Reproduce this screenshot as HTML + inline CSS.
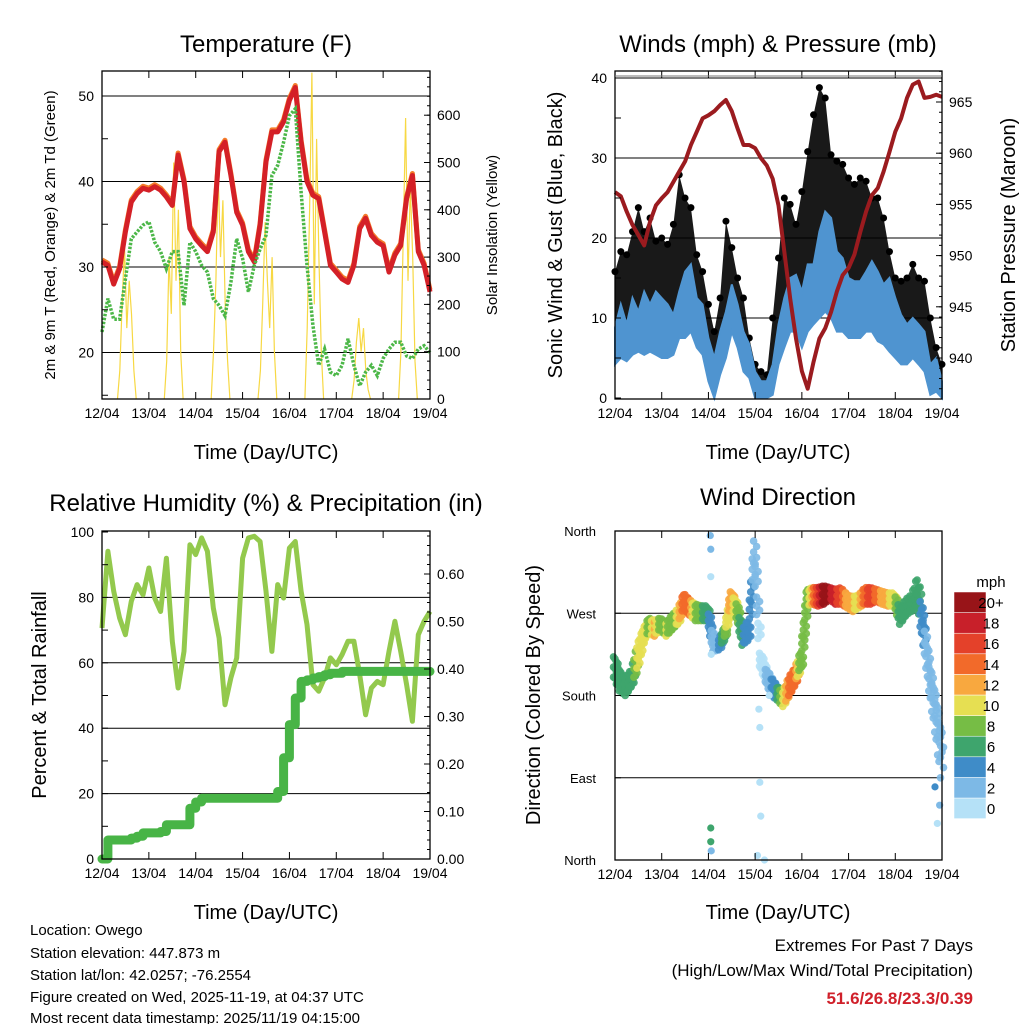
<!DOCTYPE html>
<html><head><meta charset="utf-8"><style>
html,body{margin:0;padding:0;background:#fff;}
svg{display:block;font-family:"Liberation Sans",Arial,sans-serif;}
</style></head><body>
<svg id="c" width="1024" height="1024" viewBox="0 0 1024 1024" xmlns="http://www.w3.org/2000/svg">
<rect x="0" y="0" width="1024" height="1024" fill="#fff"/>
<g font-size="24" text-anchor="middle" fill="#000">
<text x="266" y="52">Temperature (F)</text>
<text x="778" y="52">Winds (mph) &amp; Pressure (mb)</text>
<text x="266" y="511">Relative Humidity (%) &amp; Precipitation (in)</text>
<text x="778" y="505">Wind Direction</text>
</g>
<g font-size="20" text-anchor="middle">
<text x="266" y="459">Time (Day/UTC)</text>
<text x="778" y="459">Time (Day/UTC)</text>
<text x="266" y="919">Time (Day/UTC)</text>
<text x="778" y="919">Time (Day/UTC)</text>
<text transform="translate(562,235) rotate(-90)">Sonic Wind &amp; Gust (Blue, Black)</text>
<text transform="translate(1015,235) rotate(-90)">Station Pressure (Maroon)</text>
<text transform="translate(46,695) rotate(-90)">Percent &amp; Total Rainfall</text>
<text transform="translate(540,695) rotate(-90)">Direction (Colored By Speed)</text>
</g>
<g font-size="15" text-anchor="middle">
<text transform="translate(55,235) rotate(-90)">2m &amp; 9m T (Red, Orange) &amp; 2m Td (Green)</text>
<text transform="translate(497,235) rotate(-90)">Solar Insolation (Yellow)</text>
</g>
<g font-size="15">
<text x="30" y="935">Location: Owego</text>
<text x="30" y="958">Station elevation: 447.873 m</text>
<text x="30" y="980">Station lat/lon: 42.0257; -76.2554</text>
<text x="30" y="1002">Figure created on Wed, 2025-11-19, at 04:37 UTC</text>
<text x="30" y="1024" dy="-1">Most recent data timestamp: 2025/11/19 04:15:00</text>
</g>
<g font-size="17" text-anchor="end">
<text x="973" y="951">Extremes For Past 7 Days</text>
<text x="973" y="976">(High/Low/Max Wind/Total Precipitation)</text>
<text x="973" y="1004" fill="#d0202a" font-weight="bold">51.6/26.8/23.3/0.39</text>
</g>
<text x="991" y="587" font-size="15" text-anchor="middle">mph</text>
<g id="layer"></g>
</svg>
<script>
const days=['12/04','13/04','14/04','15/04','16/04','17/04','18/04','19/04'];
const tempRed=[30.6,30.2,28.0,29.8,34.1,37.6,38.6,39.2,39.0,39.4,39.0,38.2,37.2,43.1,40.0,34.5,33.3,32.5,31.8,34.1,43.5,44.6,40.7,36.4,34.9,31.8,30.6,34.9,42.3,45.8,45.8,47.0,49.5,51.0,44.6,40.0,38.4,38.0,34.1,30.2,29.4,28.6,28.2,30.2,34.5,35.7,33.7,32.9,32.5,29.4,31.4,32.5,38.0,40.7,31.8,30.2,27.1];
const tempDew=[22.4,26.3,23.9,23.9,28.6,33.3,34.1,34.9,35.3,32.9,31.8,29.8,31.8,31.8,25.5,32.9,31.8,30.2,29.4,26.3,25.5,24.3,28.2,33.3,31.0,27.1,30.2,32.1,33.7,40.7,41.9,44.6,47.7,48.5,38.8,30.2,23.2,18.5,20.4,17.7,17.3,18.5,21.6,18.5,16.1,17.7,18.5,17.3,19.3,20.4,21.2,21.2,19.6,19.3,20.4,20.8,20.0];
const solarTimes=[0.33,0.38,0.43,0.48,0.53,0.58,0.63,0.68,0.73];
const solarDay0=[0,60,200,325,150,250,180,60,0];
const solarDay1=[0,80,300,180,500,250,400,100,0];
const solarDay2=[0,100,250,473,300,420,200,80,0];
const solarDay3=[0,60,200,374,250,150,300,100,0];
const solarDay4=[0,150,400,690,200,550,300,100,0];
const solarDay5=[0,40,120,171,100,150,60,20,0];
const solarDay6=[0,100,350,594,250,450,300,80,0];
const windHi=[8.8,11.7,9.2,12.5,10.8,13.3,11.7,13.3,12.5,11.7,10.4,13.3,15.8,16.7,12.5,11.7,7.5,5.0,8.3,10.8,14.2,11.7,8.3,6.7,3.3,2.1,2.1,4.2,9.2,12.5,15.0,15.4,13.3,16.7,16.7,20.8,23.3,22.5,18.3,17.5,15.0,14.6,14.6,15.8,17.1,15.8,14.2,15.0,12.5,10.4,9.2,10.0,9.2,8.3,4.2,5.0,2.1];
const windLo=[4.2,5.0,4.6,5.4,5.8,5.4,5.8,5.4,5.0,5.0,5.4,7.5,7.5,8.3,6.3,5.4,2.1,0,2.9,5.0,8.3,6.3,3.3,2.5,0,0,0,0.4,4.2,6.3,8.3,8.3,6.3,8.3,9.2,10.0,10.8,10.0,8.3,8.3,7.5,7.5,7.5,8.3,8.3,7.1,6.7,5.8,5.0,4.2,4.2,5.0,4.2,3.3,0.4,0.8,0];
const gustHi=[15.8,18.3,17.9,20.8,23.8,20.8,22.5,19.6,20.0,19.2,21.7,27.9,25.0,23.8,17.9,15.8,11.7,8.3,12.5,22.1,18.8,15.0,12.5,7.5,4.2,3.3,2.9,10.0,17.5,25.0,24.2,21.7,25.8,30.8,35.4,38.8,37.5,30.4,29.6,29.2,27.5,26.7,27.5,27.1,25.0,25.0,22.5,18.3,15.0,14.6,15.0,16.7,15.0,14.6,10.0,6.3,4.2];
const pressure=[956.2,955.8,954.3,953.0,952.0,951.0,953.3,954.9,955.6,956.2,957.2,958.2,959.2,960.8,962.1,963.4,963.7,964.1,964.7,965.2,964.1,962.4,960.8,960.8,960.5,959.5,958.8,957.5,954.9,950.4,945.8,941.9,938.7,937.0,939.6,941.9,942.9,944.5,946.5,948.1,948.8,950.1,952.3,954.3,955.9,956.6,958.2,960.1,962.1,963.4,965.4,966.7,967.0,965.4,965.5,965.7,965.5];
const rh=[70.6,94.1,81.9,73.7,68.6,78.8,83.9,80.8,89.0,79.8,75.7,92.0,66.6,52.3,63.5,96.1,93.1,98.2,94.1,76.8,67.6,47.2,55.4,61.5,92.0,98.2,98.7,97.1,81.9,63.5,83.9,79.8,95.1,97.1,81.9,71.7,53.3,51.3,55.4,61.5,59.4,62.5,66.6,66.6,56.4,44.1,52.3,54.3,53.3,63.5,72.7,63.5,53.3,42.1,68.6,72.7,75.7];
const precip=[0.0,0.04,0.04,0.04,0.04,0.044,0.048,0.055,0.055,0.055,0.058,0.072,0.072,0.072,0.072,0.107,0.12,0.128,0.128,0.128,0.128,0.128,0.128,0.128,0.128,0.128,0.128,0.128,0.128,0.128,0.142,0.213,0.283,0.339,0.374,0.377,0.381,0.384,0.388,0.391,0.391,0.395,0.395,0.395,0.395,0.395,0.395,0.395,0.395,0.395,0.395,0.395,0.395,0.395,0.395,0.395,0.395];
const dirLo=[200,185,180,190,210,240,248,245,252,245,252,258,275,268,262,262,262,228,230,245,280,265,235,240,325,212,195,180,175,168,180,192,210,278,280,278,280,285,280,280,276,272,276,280,280,283,280,278,278,258,268,272,276,235,185,140,90];
const dirHi=[225,205,200,208,235,252,265,262,265,260,268,275,292,285,280,278,278,242,242,255,295,282,252,262,352,228,210,200,190,185,200,210,228,295,298,298,300,298,296,298,290,288,290,298,298,296,294,292,292,275,285,290,310,262,215,180,140];
const dirSpeed=[6,7,6,7,10,11,9,12,9,10,8,11,15,14,9,8,6,3,4,9,13,9,6,5,3,1,2,4,6,10,14,15,8,8,13,17,21,20,18,16,13,12,11,15,17,15,13,12,10,7,6,7,7,4,2,2,3];
const outDay=[2.04,2.05,2.05,2.06,2.05,2.05,2.06,3.05,3.08,3.1,3.1,3.12,3.2,3.3,6.85,6.9,6.95];
const outDir=[355,340,310,225,35,20,10,5,165,145,85,48,0,180,80,40,60];
const outSpeed=[3,2,1,1,6,6,2,1,1,1,1,1,1,0,4,1,2];
const cbLabels=['0','2','4','6','8','10','12','14','16','18','20+'];
const cbColors=['#b5e1f7','#7db9e6','#3f8cc8','#3ea56d','#76bd45','#e6df52','#f8a83f','#f26a2a','#e4412a','#c8202a','#981418'];

const NS='http://www.w3.org/2000/svg';
const layer=document.getElementById('layer');
function mk(tag,attrs){const e=document.createElementNS(NS,tag);for(const k in attrs)e.setAttribute(k,attrs[k]);layer.appendChild(e);return e;}
const P1={x0:102,x1:430,y0:71,y1:399}, P2={x0:615,x1:942,y0:71,y1:399}, P3={x0:102,x1:430,y0:531,y1:859}, P4={x0:615,x1:942,y0:531,y1:860};
function xD(P,d){return P.x0+d*(P.x1-P.x0)/7;}
const yT=v=>96+(50-v)*8.55, yS=v=>399-v*0.473, yW=v=>398-v*8.0, yP=p=>358-(p-940)*10.24;
const yRH=v=>859-v*3.27, yPr=v=>859-v*475, yD=d=>860-d*(329/360);
const tIdx=i=>i*0.125;
function clipY(P,y){return Math.max(P.y0,Math.min(P.y1,y));}
function pts(P,arr,fy){return arr.map((v,i)=>xD(P,tIdx(i)).toFixed(1)+','+clipY(P,fy(v)).toFixed(1)).join(' ');}

[20,30,40,50].forEach(v=>{const g=mk('line',{x1:P1.x0,x2:P1.x1,y1:yT(v),y2:yT(v),stroke:'#000','stroke-width':1});

});
[10,20,30,40].forEach(v=>{const g=mk('line',{x1:P2.x0,x2:P2.x1,y1:yW(v),y2:yW(v),stroke:'#000','stroke-width':1});

});
[20,40,60,80].forEach(v=>{const g=mk('line',{x1:P3.x0,x2:P3.x1,y1:yRH(v),y2:yRH(v),stroke:'#000','stroke-width':1});

});
[90,180,270].forEach(v=>{const g=mk('line',{x1:P4.x0,x2:P4.x1,y1:yD(v),y2:yD(v),stroke:'#000','stroke-width':1});

});

[solarDay0,solarDay1,solarDay2,solarDay3,solarDay4,solarDay5,solarDay6].forEach((arr,d)=>{
 const s=mk('polyline',{points:arr.map((v,i)=>xD(P1,d+solarTimes[i]).toFixed(1)+','+yS(v).toFixed(1)).join(' '),fill:'none',stroke:'#f7d843','stroke-width':1.2});
 
 
});
const t9=mk('polyline',{points:tempRed.map((v,i)=>xD(P1,tIdx(i)).toFixed(1)+','+(yT(v)-2).toFixed(1)).join(' '),fill:'none',stroke:'#f47c2a','stroke-width':5,'stroke-linejoin':'round'});


const t2=mk('polyline',{points:pts(P1,tempRed,yT),fill:'none',stroke:'#d42027','stroke-width':5,'stroke-linejoin':'round'});


const td=mk('polyline',{points:pts(P1,tempDew,yT),fill:'none',stroke:'#4cb748','stroke-width':3.5,'stroke-dasharray':'2.5 1.5'});



let gp=gustHi.map((v,i)=>xD(P2,tIdx(i)).toFixed(1)+','+yW(v).toFixed(1));
let wr=windHi.map((v,i)=>xD(P2,tIdx(i)).toFixed(1)+','+yW(v).toFixed(1)).reverse();
const gb=mk('polygon',{points:gp.concat(wr).join(' '),fill:'#000','fill-opacity':0.9});


gustHi.forEach((v,i)=>{const c=mk('circle',{cx:xD(P2,tIdx(i)),cy:yW(v),r:3.5,fill:'#000'});

});
let wh=windHi.map((v,i)=>xD(P2,tIdx(i)).toFixed(1)+','+yW(v).toFixed(1));
let wl=windLo.map((v,i)=>xD(P2,tIdx(i)).toFixed(1)+','+yW(v).toFixed(1)).reverse();
const wb=mk('polygon',{points:wh.concat(wl).join(' '),fill:'#4f94d0',stroke:'#4f94d0','stroke-width':2});


const pl=mk('polyline',{points:pts(P2,pressure,yP),fill:'none',stroke:'#9b1b1f','stroke-width':4,'stroke-linejoin':'round'});



const rl=mk('polyline',{points:pts(P3,rh,yRH),fill:'none',stroke:'#93c94d','stroke-width':5,'stroke-linejoin':'round'});


let stepPts=[];precip.forEach((v,i)=>{const x=xD(P3,tIdx(i));if(i>0)stepPts.push(x.toFixed(1)+','+yPr(precip[i-1]).toFixed(1));stepPts.push(x.toFixed(1)+','+yPr(v).toFixed(1));});
const prl=mk('polyline',{points:stepPts.join(' '),fill:'none',stroke:'#48b446','stroke-width':9,'stroke-linejoin':'round','stroke-linecap':'round'});



function colIdx(s){return Math.min(10,Math.floor(s/2));}
for(let i=0;i<dirSpeed.length;i++){
 const nsub=i<dirSpeed.length-1?4:1;
 for(let k=0;k<nsub;k++){
  const f=k/4, j=Math.min(i+1,dirSpeed.length-1);
  const lo=dirLo[i]+(dirLo[j]-dirLo[i])*f, hi=dirHi[i]+(dirHi[j]-dirHi[i])*f;
  const sp=dirSpeed[i]+(dirSpeed[j]-dirSpeed[i])*f;
  for(let m=0;m<5;m++){
   const dd=lo+(hi-lo)*((m+0.5*(k%2))/4.5);
   const c=mk('circle',{cx:(xD(P4,tIdx(i+f))+((m%2)?1.5:-1.5)).toFixed(1),cy:yD(dd).toFixed(1),r:3.8,fill:cbColors[colIdx(sp)],'fill-opacity':0.9});
   
   
  }
 }
}
outDay.forEach((d,i)=>{const c=mk('circle',{cx:xD(P4,d),cy:yD(outDir[i]),r:3.6,fill:cbColors[colIdx(outSpeed[i])]});

});

cbColors.forEach((col,i)=>{const y=798-i*20.6;
 const r=mk('rect',{x:954,y:y,width:32,height:20.6,fill:col,stroke:'#fff','stroke-width':0.5});
 
 
 const t=mk('text',{x:991,y:y+16,'font-size':15,'text-anchor':'middle',fill:'#000'});t.textContent=cbLabels[i];
 
 
});

function frame(P,nm){const r=mk('rect',{x:P.x0,y:P.y0,width:P.x1-P.x0,height:P.y1-P.y0,fill:'none',stroke:'#000','stroke-width':1.3});
 
 
 for(let d=0;d<=7;d++){const x=xD(P,d);
  const a=mk('line',{x1:x,x2:x,y1:P.y1,y2:P.y1-7,stroke:'#000','stroke-width':1});
  
  
  const b=mk('line',{x1:x,x2:x,y1:P.y0,y2:P.y0+7,stroke:'#000','stroke-width':1});
  
  
  const t=mk('text',{x:x,y:P.y1+19,'font-size':14,'text-anchor':'middle'});t.textContent=days[d];
  
  }
}
function yticks(P,side,vals,fy,len,labels,fmt){vals.forEach(v=>{const y=fy(v);if(y<P.y0-0.5||y>P.y1+0.5)return;
 const x=side==='l'?P.x0:P.x1, dx=side==='l'?len:-len;
 const l=mk('line',{x1:x,x2:x+dx,y1:y,y2:y,stroke:'#000','stroke-width':1});
 
 
 if(labels&&labels.includes(v)){const t=mk('text',{x:side==='l'?x-8:x+7,y:y+5,'font-size':14,'text-anchor':side==='l'?'end':'start'});t.textContent=fmt?fmt(v):v;
 
 }});}
frame(P1,'temperature-plot-frame');frame(P2,'wind-plot-frame');frame(P3,'rh-plot-frame');frame(P4,'direction-plot-frame');
const r5=(a,b,s)=>{const o=[];for(let v=a;v<=b+1e-9;v+=s)o.push(+v.toFixed(3));return o;};
yticks(P1,'l',r5(15,50,5),yT,6,[20,30,40,50]);
yticks(P1,'r',r5(0,680,20),yS,3,[]);yticks(P1,'r',r5(0,600,100),yS,6,[0,100,200,300,400,500,600]);
yticks(P2,'l',r5(0,40,5),yW,6,[0,10,20,30,40]);
yticks(P2,'r',r5(937,968,1),yP,3,[]);yticks(P2,'r',r5(940,965,5),yP,6,[940,945,950,955,960,965]);
yticks(P3,'l',r5(0,100,10),yRH,6,[0,20,40,60,80,100]);
yticks(P3,'r',r5(0,0.68,0.02),yPr,3,[]);yticks(P3,'r',r5(0,0.6,0.1),yPr,6,[0,0.1,0.2,0.3,0.4,0.5,0.6],v=>v.toFixed(2));
const dirNames=['North','East','South','West','North'];
[0,90,180,270,360].forEach((v,i)=>{const y=yD(v);
 const l=mk('line',{x1:P4.x0,x2:P4.x0+6,y1:y,y2:y,stroke:'#000'});
 
 
 const t=mk('text',{x:P4.x0-19,y:y+5,'font-size':13,'text-anchor':'end'});t.textContent=dirNames[i];
 
 });
const topLine=mk('line',{x1:P2.x0,x2:P2.x1,y1:76,y2:76,stroke:'#777','stroke-width':1});


</script>
</body></html>
